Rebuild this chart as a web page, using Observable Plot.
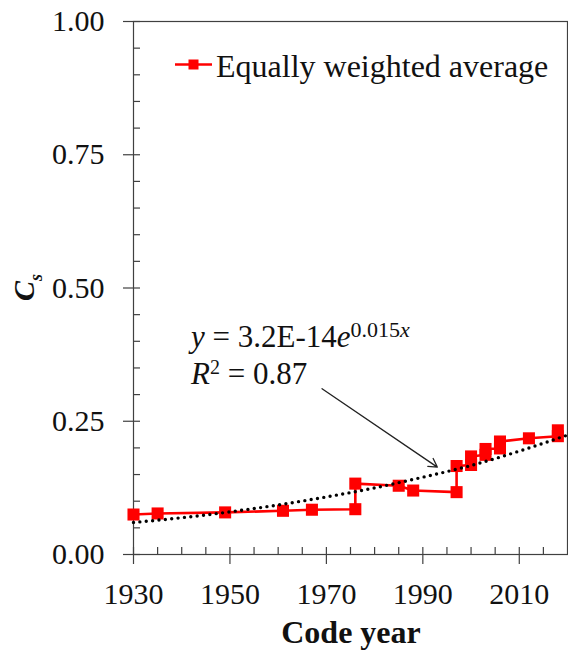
<!DOCTYPE html>
<html><head><meta charset="utf-8">
<script src="https://cdn.jsdelivr.net/npm/d3@7"></script>
<script src="https://cdn.jsdelivr.net/npm/@observablehq/plot@0.6"></script>
<style>
body{margin:0;background:#fff}
#chart{width:568px;height:652px}
</style>
</head><body><div id="chart"></div>
<script>
// Data
const years = [1930,1935,1949,1961,1967,1976,1976,1985,1988,1997,1997,2000,2000,2003,2003,2006,2006,2012,2018,2018];
const csValues = [0.075,0.077,0.079,0.082,0.084,0.085,0.133,0.129,0.120,0.117,0.166,0.168,0.184,0.187,0.198,0.199,0.212,0.218,0.222,0.233];
const trendYears = [1930,1940,1950,1960,1970,1980,1990,2000,2010,2020];
const trendValues = [0.060,0.069,0.080,0.093,0.108,0.125,0.145,0.167,0.194,0.224];
const xMajorTicks = [1930,1950,1970,1990,2010];
const xMinorTicks = [1935,1940,1945,1955,1960,1965,1975,1980,1985,1995,2000,2005,2015];
const yMajorTicks = [0,0.25,0.5,0.75,1];
const yMinorTicks = [0.05,0.1,0.15,0.2,0.3,0.35,0.4,0.45,0.55,0.6,0.65,0.7,0.8,0.85,0.9,0.95];
const yTickLabels = ["0.00","0.25","0.50","0.75","1.00"];
const seriesName = "Equally weighted average";
const xLabel = "Code year";
const yLabelMain = "C", yLabelSub = "s";
const fitText = {pre: "y", mid: " = 3.2E-14", e: "e", exp: "0.015", expVar: "x"};
const r2Text = {r: "R", sup: "2", rest: " = 0.87"};
const arrowStart = {year: 1969.1, cs: 0.311};
const arrowEnd = {year: 1993.0, cs: 0.164};

const points = years.map((y, i) => ({year: y, cs: csValues[i]}));
const trend = trendYears.map((y, i) => ({year: y, cs: trendValues[i]}));

const axisColor = "#404040";
const FONT = "Liberation Serif";

const chart = Plot.plot({
  width: 568, height: 652,
  marginLeft: 133, marginRight: 1, marginTop: 21, marginBottom: 98,
  x: {domain: [1930, 2020]},
  y: {domain: [0, 1]},
  style: "font-size:30px;color:#000;background:#fff",
  marks: [
    Plot.frame({stroke: axisColor, strokeWidth: 1.2}),
    Plot.axisX({ticks: xMinorTicks, tickSize: 7, dy: -7, tickFormat: () => "", label: null, stroke: axisColor, strokeWidth: 1.2}),
    Plot.axisX({ticks: xMajorTicks, tickSize: 17, dy: -7, tickFormat: () => "", label: null, stroke: axisColor, strokeWidth: 1.2}),
    Plot.axisX({ticks: xMajorTicks, tickSize: 0, tickPadding: 28, tickFormat: d => String(d), label: null, fill: "#111"}),
    Plot.axisY({ticks: yMinorTicks, tickSize: 7, dx: 7, tickFormat: () => "", label: null, stroke: axisColor, strokeWidth: 1.2}),
    Plot.axisY({ticks: yMajorTicks, tickSize: 17, dx: 7, tickFormat: () => "", label: null, stroke: axisColor, strokeWidth: 1.2}),
    Plot.axisY({ticks: yMajorTicks, tickSize: 0, tickPadding: 29, tickFormat: d => yTickLabels[yMajorTicks.indexOf(d)], label: null, fill: "#111"}),
    Plot.line(points, {x: "year", y: "cs", stroke: "#ff0000", strokeWidth: 2.6}),
    Plot.dot(points, {x: "year", y: "cs", symbol: "square", fill: "#ff0000", r: 6.8}),
    Plot.line(trend, {x: "year", y: "cs", stroke: "#000", strokeWidth: 3.4, strokeDasharray: "0 6.4", strokeLinecap: "round", curve: "natural"}),
    Plot.arrow([{x1: arrowStart.year, y1: arrowStart.cs, x2: arrowEnd.year, y2: arrowEnd.cs}], {x1: "x1", y1: "y1", x2: "x2", y2: "y2", stroke: "#222", strokeWidth: 1.3, headLength: 11})
  ]
});
document.getElementById("chart").appendChild(chart);

const svg = d3.select(chart);
svg.attr("font-family", FONT);
svg.selectAll("text").attr("font-family", FONT);
const g = svg.append("g").attr("fill", "#111").attr("text-anchor", "start").attr("font-family", FONT);

// Legend
const lg = g.append("g");
lg.append("line").attr("x1", 175).attr("x2", 212).attr("y1", 64.5).attr("y2", 64.5).attr("stroke", "#ff0000").attr("stroke-width", 2.6);
lg.append("rect").attr("x", 188.5).attr("y", 59.5).attr("width", 10).attr("height", 10).attr("fill", "#ff0000");
lg.append("text").attr("font-family", FONT).attr("x", 216).attr("y", 76.5).attr("font-size", 32).text(seriesName);

// Fit equation
const t1 = g.append("text").attr("font-family", FONT).attr("x", 191).attr("y", 346.5).attr("font-size", 31);
t1.append("tspan").attr("font-style", "italic").text(fitText.pre);
t1.append("tspan").text(fitText.mid);
t1.append("tspan").attr("font-style", "italic").text(fitText.e);
t1.append("tspan").attr("font-size", 22).attr("dy", -10).text(fitText.exp);
t1.append("tspan").attr("font-size", 22).attr("font-style", "italic").text(fitText.expVar);
const t2 = g.append("text").attr("font-family", FONT).attr("x", 191).attr("y", 384.3).attr("font-size", 31);
t2.append("tspan").attr("font-style", "italic").text(r2Text.r);
t2.append("tspan").attr("font-size", 20).attr("dy", -10).text(r2Text.sup);
t2.append("tspan").attr("dy", 10).text(r2Text.rest);

// Axis titles
g.append("text").attr("font-family", FONT).attr("x", 351).attr("y", 643).attr("text-anchor", "middle").attr("font-size", 32).attr("font-weight", "bold").text(xLabel);
const yl = g.append("text").attr("font-family", FONT).attr("transform", "translate(34,301) rotate(-90)").attr("font-weight", "bold").attr("font-style", "italic");
yl.append("tspan").attr("font-size", 30).text(yLabelMain);
yl.append("tspan").attr("font-size", 18).attr("dy", 8).text(yLabelSub);
</script>
</body></html>
